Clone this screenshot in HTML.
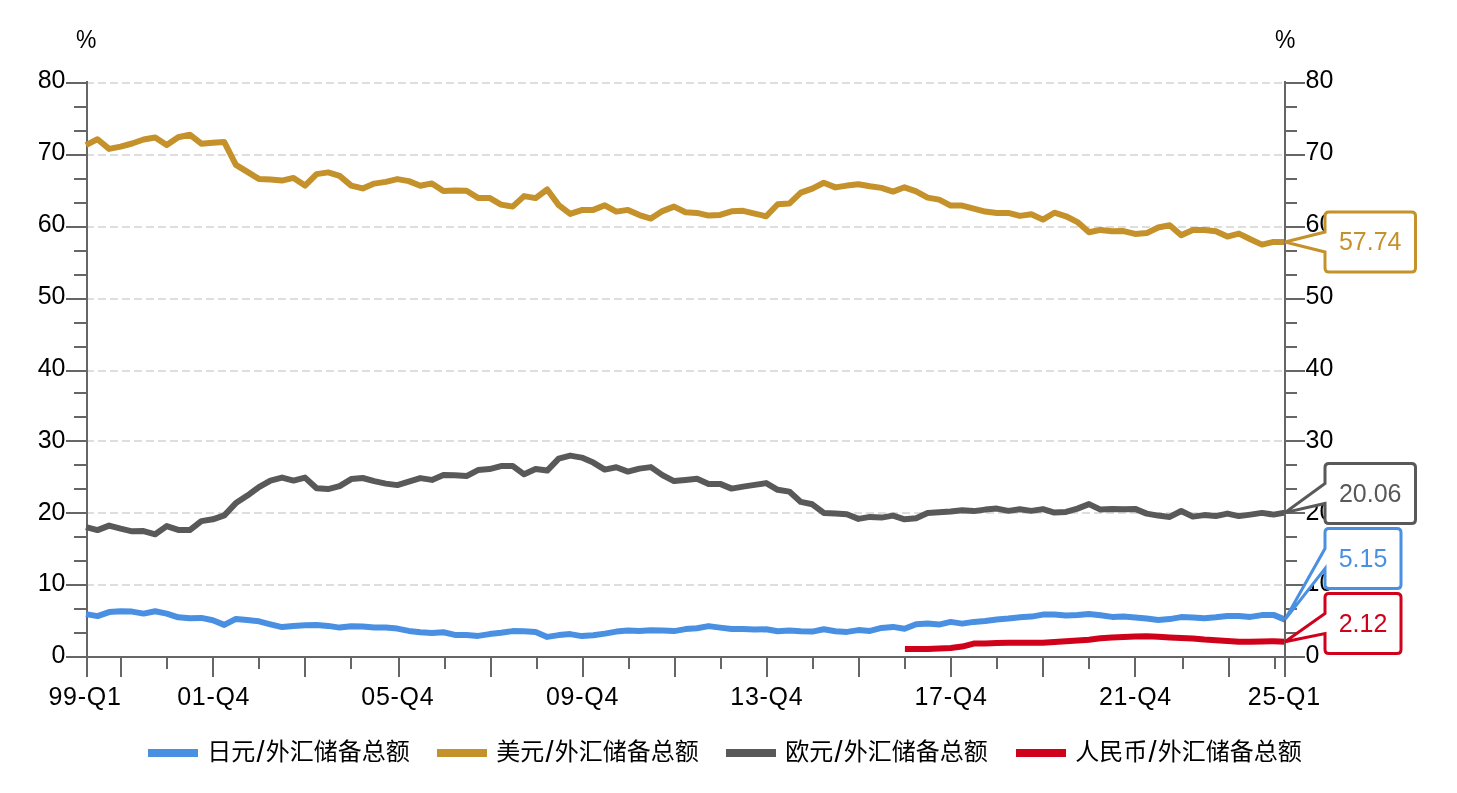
<!DOCTYPE html>
<html lang="zh-CN"><head><meta charset="utf-8"><title>外汇储备货币构成</title>
<style>html,body{margin:0;padding:0;background:#fff}body{width:1457px;height:793px;overflow:hidden}svg{display:block}text{font-family:"Liberation Sans","Noto Sans CJK SC",sans-serif;fill:#000}</style>
</head><body>
<svg width="1457" height="793" viewBox="0 0 1457 793">
<rect width="1457" height="793" fill="#fff"/>
<g stroke="#dedede" stroke-width="2" stroke-dasharray="8 4" fill="none">
<path d="M86 83 H1284"/>
<path d="M86 155 H1284"/>
<path d="M86 227 H1284"/>
<path d="M86 299 H1284"/>
<path d="M86 371 H1284"/>
<path d="M86 441 H1284"/>
<path d="M86 513 H1284"/>
<path d="M86 585 H1284"/>
</g>
<g stroke="#666666" stroke-width="2" fill="none">
<path d="M87 81 V677"/><path d="M1285 81 V677"/><path d="M66 657 H1305"/>
<path d="M66 83 H87"/><path d="M1285 83 H1305"/>
<path d="M66 155 H87"/><path d="M1285 155 H1305"/>
<path d="M66 227 H87"/><path d="M1285 227 H1305"/>
<path d="M66 299 H87"/><path d="M1285 299 H1305"/>
<path d="M66 371 H87"/><path d="M1285 371 H1305"/>
<path d="M66 441 H87"/><path d="M1285 441 H1305"/>
<path d="M66 513 H87"/><path d="M1285 513 H1305"/>
<path d="M66 585 H87"/><path d="M1285 585 H1305"/>
<path d="M74 107 H87"/><path d="M1285 107 H1297"/>
<path d="M74 131 H87"/><path d="M1285 131 H1297"/>
<path d="M74 179 H87"/><path d="M1285 179 H1297"/>
<path d="M74 203 H87"/><path d="M1285 203 H1297"/>
<path d="M74 251 H87"/><path d="M1285 251 H1297"/>
<path d="M74 275 H87"/><path d="M1285 275 H1297"/>
<path d="M74 323 H87"/><path d="M1285 323 H1297"/>
<path d="M74 347 H87"/><path d="M1285 347 H1297"/>
<path d="M74 393 H87"/><path d="M1285 393 H1297"/>
<path d="M74 417 H87"/><path d="M1285 417 H1297"/>
<path d="M74 465 H87"/><path d="M1285 465 H1297"/>
<path d="M74 489 H87"/><path d="M1285 489 H1297"/>
<path d="M74 537 H87"/><path d="M1285 537 H1297"/>
<path d="M74 561 H87"/><path d="M1285 561 H1297"/>
<path d="M74 609 H87"/><path d="M1285 609 H1297"/>
<path d="M74 633 H87"/><path d="M1285 633 H1297"/>
<path d="M121 657 V677"/>
<path d="M213 657 V677"/>
<path d="M305 657 V677"/>
<path d="M399 657 V677"/>
<path d="M491 657 V677"/>
<path d="M583 657 V677"/>
<path d="M675 657 V677"/>
<path d="M767 657 V677"/>
<path d="M859 657 V677"/>
<path d="M951 657 V677"/>
<path d="M1043 657 V677"/>
<path d="M1135 657 V677"/>
<path d="M1229 657 V677"/>
<path d="M167 657 V669"/>
<path d="M259 657 V669"/>
<path d="M351 657 V669"/>
<path d="M445 657 V669"/>
<path d="M537 657 V669"/>
<path d="M629 657 V669"/>
<path d="M721 657 V669"/>
<path d="M813 657 V669"/>
<path d="M905 657 V669"/>
<path d="M997 657 V669"/>
<path d="M1089 657 V669"/>
<path d="M1183 657 V669"/>
<path d="M1275 657 V669"/>
</g>
<g font-size="25">
<text x="65.5" y="87.8" text-anchor="end">80</text>
<text x="1305.5" y="87.8">80</text>
<text x="65.5" y="159.6" text-anchor="end">70</text>
<text x="1305.5" y="159.6">70</text>
<text x="65.5" y="231.6" text-anchor="end">60</text>
<text x="1305.5" y="231.6">60</text>
<text x="65.5" y="304.2" text-anchor="end">50</text>
<text x="1305.5" y="304.2">50</text>
<text x="65.5" y="376.1" text-anchor="end">40</text>
<text x="1305.5" y="376.1">40</text>
<text x="65.5" y="447.8" text-anchor="end">30</text>
<text x="1305.5" y="447.8">30</text>
<text x="65.5" y="519.9" text-anchor="end">20</text>
<text x="1305.5" y="519.9">20</text>
<text x="65.5" y="590.8" text-anchor="end">10</text>
<text x="1305.5" y="590.8">10</text>
<text x="65.5" y="662.7" text-anchor="end">0</text>
<text x="1305.5" y="662.7">0</text>
<text x="85.0" y="704.6" text-anchor="middle" letter-spacing="0.7">99-Q1</text>
<text x="213.7" y="704.6" text-anchor="middle" letter-spacing="0.7">01-Q4</text>
<text x="397.8" y="704.6" text-anchor="middle" letter-spacing="0.7">05-Q4</text>
<text x="582.5" y="704.6" text-anchor="middle" letter-spacing="0.7">09-Q4</text>
<text x="766.8" y="704.6" text-anchor="middle" letter-spacing="0.7">13-Q4</text>
<text x="951.0" y="704.6" text-anchor="middle" letter-spacing="0.7">17-Q4</text>
<text x="1135.4" y="704.6" text-anchor="middle" letter-spacing="0.7">21-Q4</text>
<text x="1284.3" y="704.6" text-anchor="middle" letter-spacing="0.7">25-Q1</text>
<text x="76" y="48" font-size="25.5" textLength="20.4" lengthAdjust="spacingAndGlyphs">%</text>
<text x="1275" y="48" font-size="25.5" textLength="20.4" lengthAdjust="spacingAndGlyphs">%</text>
</g>
<g fill="none" stroke-width="6" stroke-linejoin="round" stroke-linecap="butt">
<path stroke="#4A90E2" d="M86.0 614.1 L97.5 616.1 L109.1 612.1 L120.6 611.3 L132.1 611.6 L143.6 613.6 L155.2 611.3 L166.7 613.6 L178.2 617.3 L189.8 618.3 L201.3 617.9 L212.8 620.3 L224.3 624.9 L235.9 618.9 L247.4 620.1 L258.9 621.3 L270.5 624.3 L282.0 627.1 L293.5 625.9 L305.0 625.3 L316.6 625.1 L328.1 625.9 L339.6 627.6 L351.2 626.3 L362.7 626.4 L374.2 627.6 L385.8 627.6 L397.3 628.6 L408.8 630.9 L420.3 632.3 L431.9 633.1 L443.4 632.3 L454.9 634.9 L466.5 634.9 L478.0 635.9 L489.5 634.1 L501.0 632.8 L512.6 631.1 L524.1 631.3 L535.6 631.9 L547.2 636.9 L558.7 635.1 L570.2 634.1 L581.7 636.1 L593.3 635.3 L604.8 633.6 L616.3 631.6 L627.9 630.6 L639.4 631.0 L650.9 630.3 L662.4 630.6 L674.0 631.1 L685.5 629.1 L697.0 628.3 L708.6 626.1 L720.1 627.6 L731.6 628.9 L743.1 629.1 L754.7 629.6 L766.2 629.3 L777.7 631.3 L789.3 630.6 L800.8 631.3 L812.3 631.6 L823.8 629.3 L835.4 631.3 L846.9 631.9 L858.4 630.1 L870.0 630.9 L881.5 627.9 L893.0 626.9 L904.5 628.8 L916.1 624.3 L927.6 623.6 L939.1 624.6 L950.7 621.9 L962.2 623.6 L973.7 621.9 L985.2 621.1 L996.8 619.6 L1008.3 618.6 L1019.8 617.3 L1031.4 616.6 L1042.9 614.6 L1054.4 614.6 L1066.0 615.6 L1077.5 614.9 L1089.0 613.9 L1100.5 615.3 L1112.1 616.9 L1123.6 616.6 L1135.1 617.6 L1146.7 618.6 L1158.2 619.9 L1169.7 619.1 L1181.2 617.1 L1192.8 617.6 L1204.3 618.3 L1215.8 617.3 L1227.4 615.9 L1238.9 615.9 L1250.4 616.9 L1261.9 615.1 L1273.5 614.9 L1285.0 619.6"/>
<path stroke="#C4912A" d="M86.0 145.1 L97.5 139.2 L109.1 148.9 L120.6 146.6 L132.1 143.5 L143.6 139.5 L155.2 137.5 L166.7 145.0 L178.2 137.2 L189.8 134.7 L201.3 143.7 L212.8 142.8 L224.3 142.1 L235.9 164.9 L247.4 171.9 L258.9 178.9 L270.5 179.6 L282.0 180.6 L293.5 177.9 L305.0 185.6 L316.6 174.1 L328.1 172.4 L339.6 175.9 L351.2 185.6 L362.7 188.4 L374.2 183.6 L385.8 181.9 L397.3 179.1 L408.8 181.1 L420.3 185.8 L431.9 183.4 L443.4 190.9 L454.9 190.6 L466.5 190.8 L478.0 197.9 L489.5 197.9 L501.0 204.6 L512.6 206.6 L524.1 196.1 L535.6 198.1 L547.2 189.5 L558.7 205.1 L570.2 213.9 L581.7 210.1 L593.3 209.9 L604.8 205.3 L616.3 211.6 L627.9 209.9 L639.4 215.1 L650.9 218.6 L662.4 211.1 L674.0 206.6 L685.5 212.3 L697.0 212.9 L708.6 215.6 L720.1 214.9 L731.6 211.3 L743.1 210.8 L754.7 213.6 L766.2 216.3 L777.7 204.2 L789.3 203.6 L800.8 192.6 L812.3 188.6 L823.8 182.8 L835.4 187.4 L846.9 185.6 L858.4 184.3 L870.0 186.3 L881.5 187.9 L893.0 191.6 L904.5 187.3 L916.1 191.4 L927.6 197.6 L939.1 199.6 L950.7 205.6 L962.2 205.6 L973.7 208.6 L985.2 211.6 L996.8 212.9 L1008.3 212.9 L1019.8 215.9 L1031.4 214.3 L1042.9 219.6 L1054.4 212.7 L1066.0 216.3 L1077.5 222.1 L1089.0 232.3 L1100.5 229.9 L1112.1 231.3 L1123.6 231.1 L1135.1 233.9 L1146.7 233.1 L1158.2 227.5 L1169.7 225.3 L1181.2 235.2 L1192.8 229.9 L1204.3 230.1 L1215.8 231.3 L1227.4 236.6 L1238.9 233.6 L1250.4 239.3 L1261.9 244.6 L1273.5 241.9 L1285.0 242.0"/>
<path stroke="#595959" d="M86.0 527.1 L97.5 530.1 L109.1 525.6 L120.6 528.6 L132.1 531.3 L143.6 531.1 L155.2 534.3 L166.7 526.1 L178.2 529.9 L189.8 530.1 L201.3 521.1 L212.8 519.3 L224.3 515.4 L235.9 503.1 L247.4 495.6 L258.9 487.1 L270.5 480.6 L282.0 477.6 L293.5 480.6 L305.0 477.6 L316.6 488.3 L328.1 489.1 L339.6 486.1 L351.2 479.1 L362.7 478.0 L374.2 481.1 L385.8 483.6 L397.3 485.1 L408.8 481.6 L420.3 478.1 L431.9 479.9 L443.4 475.1 L454.9 475.3 L466.5 476.1 L478.0 470.1 L489.5 469.1 L501.0 466.1 L512.6 465.9 L524.1 474.3 L535.6 469.1 L547.2 470.6 L558.7 458.6 L570.2 455.6 L581.7 457.6 L593.3 462.6 L604.8 469.6 L616.3 467.3 L627.9 471.6 L639.4 468.6 L650.9 467.1 L662.4 475.1 L674.0 481.1 L685.5 479.9 L697.0 478.8 L708.6 484.1 L720.1 483.9 L731.6 488.6 L743.1 486.6 L754.7 484.9 L766.2 483.1 L777.7 489.8 L789.3 491.6 L800.8 501.9 L812.3 504.3 L823.8 512.9 L835.4 513.6 L846.9 514.3 L858.4 518.9 L870.0 516.9 L881.5 517.6 L893.0 515.6 L904.5 519.3 L916.1 518.2 L927.6 513.1 L939.1 512.3 L950.7 511.6 L962.2 510.3 L973.7 511.1 L985.2 509.6 L996.8 508.6 L1008.3 510.9 L1019.8 509.3 L1031.4 510.9 L1042.9 509.1 L1054.4 512.6 L1066.0 511.9 L1077.5 508.6 L1089.0 504.1 L1100.5 509.6 L1112.1 508.9 L1123.6 509.3 L1135.1 508.9 L1146.7 513.6 L1158.2 515.6 L1169.7 516.9 L1181.2 511.0 L1192.8 516.6 L1204.3 515.1 L1215.8 516.1 L1227.4 513.6 L1238.9 516.1 L1250.4 514.6 L1261.9 512.9 L1273.5 514.6 L1285.0 512.6"/>
<path stroke="#D0021B" d="M904.9 649.0 L916.1 649.1 L927.6 649.1 L939.1 648.6 L950.7 647.9 L962.2 646.6 L973.7 643.6 L985.2 643.6 L996.8 643.1 L1008.3 642.8 L1019.8 642.8 L1031.4 642.8 L1042.9 642.7 L1054.4 642.0 L1066.0 641.3 L1077.5 640.6 L1089.0 639.7 L1100.5 638.2 L1112.1 637.4 L1123.6 637.1 L1135.1 636.6 L1146.7 636.3 L1158.2 636.8 L1169.7 637.5 L1181.2 638.0 L1192.8 638.4 L1204.3 639.5 L1215.8 640.2 L1227.4 640.9 L1238.9 641.8 L1250.4 641.7 L1261.9 641.4 L1273.5 641.3 L1285.0 641.7"/>
</g>
<path d="M1285 81 V677" stroke="#666666" stroke-width="2" fill="none"/>
<path d="M1285 242 L1325 232 V216 Q1325 212 1329 212 H1411.5 Q1415.5 212 1415.5 216 V268 Q1415.5 272 1411.5 272 H1329 Q1325 272 1325 268 V252 Z" fill="#fff" stroke="#C4912A" stroke-width="3" stroke-linejoin="miter"/>
<text x="1370.2" y="250.2" text-anchor="middle" font-size="25" style="fill:#C4912A">57.74</text>
<path d="M1285 512.6 L1325 483.5 V467.5 Q1325 463.5 1329 463.5 H1411.5 Q1415.5 463.5 1415.5 467.5 V519.5 Q1415.5 523.5 1411.5 523.5 H1329 Q1325 523.5 1325 519.5 V503.5 Z" fill="#fff" stroke="#595959" stroke-width="3" stroke-linejoin="miter"/>
<text x="1370.2" y="501.7" text-anchor="middle" font-size="25" style="fill:#595959">20.06</text>
<path d="M1285 619.6 L1325 548.5 V532.5 Q1325 528.5 1329 528.5 H1397 Q1401 528.5 1401 532.5 V584.5 Q1401 588.5 1397 588.5 H1329 Q1325 588.5 1325 584.5 V568.5 Z" fill="#fff" stroke="#4A90E2" stroke-width="3" stroke-linejoin="miter"/>
<text x="1363.0" y="566.7" text-anchor="middle" font-size="25" style="fill:#4A90E2">5.15</text>
<path d="M1285 641.7 L1325 613.5 V597.5 Q1325 593.5 1329 593.5 H1397 Q1401 593.5 1401 597.5 V649.5 Q1401 653.5 1397 653.5 H1329 Q1325 653.5 1325 649.5 V633.5 Z" fill="#fff" stroke="#D0021B" stroke-width="3" stroke-linejoin="miter"/>
<text x="1363.0" y="631.7" text-anchor="middle" font-size="25" style="fill:#D0021B">2.12</text>
<g font-size="24">
<rect x="148" y="749" width="50" height="8" fill="#4A90E2"/>
<text x="207.2" y="760">日元<tspan font-size="29" dx="1.3" dy="2">/</tspan><tspan dx="1.3" dy="-2">外汇储备总额</tspan></text>
<rect x="437" y="749" width="50" height="8" fill="#C4912A"/>
<text x="496.2" y="760">美元<tspan font-size="29" dx="1.3" dy="2">/</tspan><tspan dx="1.3" dy="-2">外汇储备总额</tspan></text>
<rect x="726" y="749" width="50" height="8" fill="#595959"/>
<text x="785.2" y="760">欧元<tspan font-size="29" dx="1.3" dy="2">/</tspan><tspan dx="1.3" dy="-2">外汇储备总额</tspan></text>
<rect x="1016" y="749" width="50" height="8" fill="#D0021B"/>
<text x="1075.2" y="760">人民币<tspan font-size="29" dx="1.3" dy="2">/</tspan><tspan dx="1.3" dy="-2">外汇储备总额</tspan></text>
</g>
</svg></body></html>
